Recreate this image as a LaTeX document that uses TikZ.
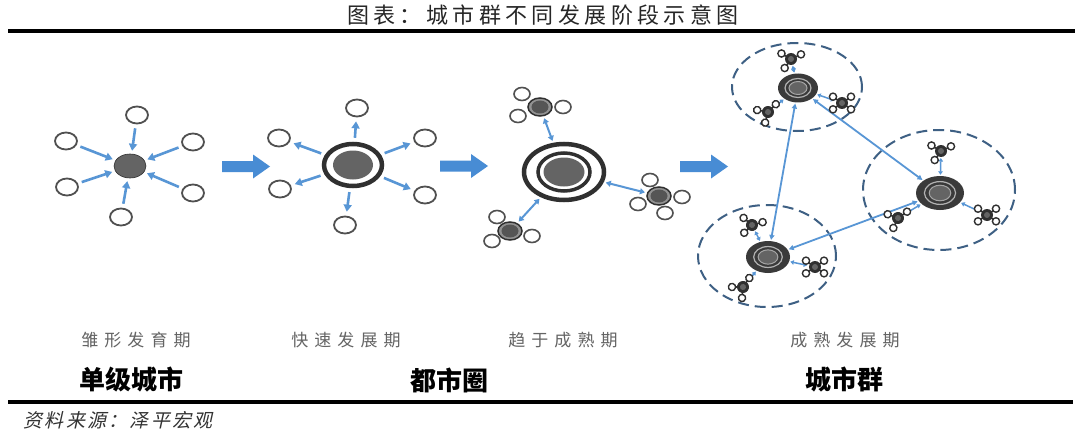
\documentclass[tikz,border=0pt]{standalone}
\usepackage{fontspec}
\usetikzlibrary{shapes.geometric,arrows.meta}
\newfontfamily\cjk{Noto Sans CJK SC}
\newfontfamily\cjkit[FakeSlant=0.22]{Noto Sans CJK SC}
\definecolor{bl}{RGB}{88,150,213}
\definecolor{bigc}{RGB}{72,140,212}
\definecolor{hubc}{RGB}{100,100,100}
\definecolor{ringc}{RGB}{48,48,48}
\definecolor{satc}{RGB}{80,80,80}
\definecolor{cityc}{RGB}{58,58,58}
\definecolor{dashc}{RGB}{62,96,132}
\definecolor{labc}{RGB}{100,100,100}
\tikzset{
  sat/.style={ellipse, draw=satc, line width=1.8pt, fill=white, minimum width=22pt, minimum height=17pt, inner sep=0pt},
  sat3/.style={ellipse, draw=satc, line width=1.6pt, fill=white, minimum width=16pt, minimum height=13pt, inner sep=0pt},
  hubone/.style={ellipse, fill=hubc, draw=ringc, line width=0.6pt, minimum width=32pt, minimum height=24pt, inner sep=0pt},
  subhub/.style={ellipse, fill=hubc!70, draw=ringc, line width=1.5pt, minimum width=24pt, minimum height=18pt, inner sep=0pt},
  city/.style={ellipse, fill=cityc, inner sep=0pt},
  dashring/.style={ellipse, draw=dashc, line width=2pt, dash pattern=on 11pt off 6pt, inner sep=0pt},
  arr/.style={draw=bl, line width=2.6pt, -{Triangle[length=7pt,width=8pt]}},
  darr/.style={draw=bl, line width=2pt, {Triangle[length=5pt,width=6pt]}-{Triangle[length=5pt,width=6pt]}},
  larr/.style={draw=bl, line width=1.8pt, {Triangle[length=5pt,width=5pt]}-{Triangle[length=5pt,width=5pt]}},
  sarr/.style={draw=bl, line width=1.5pt, {Triangle[length=3.5pt,width=4.5pt]}-{Triangle[length=3.5pt,width=4.5pt]}},
  tinythree/.pic={
    \foreach \a in {25,150,235}{
      \draw[ringc, line width=1.5pt] (0,0) -- (\a:8pt);
      \draw[ringc, line width=1.4pt, fill=white] (\a:11pt) circle[radius=3.6pt];
    }
    \fill[ringc] (0,0) circle[radius=6pt];
    \fill[hubc] (0,0) circle[radius=3pt];
  },
  tinyfour/.pic={
    \foreach \a in {35,145,215,325}{
      \draw[ringc, line width=1.5pt] (0,0) -- (\a:8pt);
      \draw[ringc, line width=1.4pt, fill=white] (\a:11pt) circle[radius=3.6pt];
    }
    \fill[ringc] (0,0) circle[radius=6pt];
    \fill[hubc] (0,0) circle[radius=3pt];
  },
  blockarr/.pic={
    \fill[bigc] (0,-5.5) -- (31,-5.5) -- (31,-12) -- (48,0) -- (31,12) -- (31,5.5) -- (0,5.5) -- cycle;
  },
  lab/.style={font=\cjk\fontsize{17}{17}\selectfont\addfontfeature{LetterSpace=36}, text=labc},
  big/.style={font=\cjk\bfseries\fontsize{26}{26}\selectfont, text=black}
}
\begin{document}
\begin{tikzpicture}[x=1pt,y=-1pt]
\useasboundingbox (0,0) rectangle (1080,436);
\fill[white] (0,0) rectangle (1080,436);

% title and rules
\node[font=\cjk\fontsize{22}{22}\selectfont\addfontfeature{LetterSpace=20}, text=black!85] (title) at (543,15) {图表：城市群不同发展阶段示意图};
\draw[line width=4pt] (8,31) -- (1075,31);
\draw[line width=3.5pt] (8,402) -- (1073,402);
\node[font=\cjkit\fontsize{19}{19}\selectfont\addfontfeature{LetterSpace=12}, text=black!80, anchor=west] (src) at (20,420) {资料来源：泽平宏观};

% stage 1
\node[hubone] (c1) at (130,166) {};
\node[sat] (s1a) at (137,115) {};
\node[sat] (s1b) at (66,141) {};
\node[sat] (s1c) at (193,142) {};
\node[sat] (s1d) at (67,187) {};
\node[sat] (s1e) at (193,193) {};
\node[sat] (s1f) at (121,217) {};
\foreach \s in {s1a,s1b,s1c,s1d,s1e,s1f}{\draw[arr, shorten <=4pt, shorten >=3pt] (\s) -- (c1);}

\pic at (222,166.5) {blockarr};

% stage 2
\node[ellipse, draw=ringc, line width=4.5pt, minimum width=58pt, minimum height=42pt, inner sep=0pt] (c2) at (353,165) {};
\fill[hubc] (c2.center) ellipse[x radius=20pt, y radius=14.5pt];
\node[sat] (s2a) at (357,108) {};
\node[sat] (s2b) at (279,138) {};
\node[sat] (s2c) at (425,138) {};
\node[sat] (s2d) at (280,189) {};
\node[sat] (s2e) at (425,195) {};
\node[sat] (s2f) at (345,225) {};
\foreach \s in {s2a,s2b,s2c,s2d,s2e,s2f}{\draw[arr, shorten <=4pt, shorten >=4pt] (c2) -- (\s);}

\pic at (440,166) {blockarr};

% stage 3
\node[ellipse, draw=ringc, line width=4.5pt, minimum width=80pt, minimum height=56pt, inner sep=0pt] (c3) at (564,172) {};
\draw[ringc, line width=3.5pt] (c3.center) ellipse[x radius=26pt, y radius=19pt];
\fill[hubc] (c3.center) ellipse[x radius=20.5pt, y radius=14.5pt];

\node[subhub] (h3a) at (540,107) {};
\fill[hubc!85!black] (h3a.center) ellipse[x radius=8.5pt, y radius=6.5pt];
\node[sat3] (p3a) at (522,94) {};
\node[sat3] (p3b) at (518,116) {};
\node[sat3] (p3c) at (563,107) {};

\node[subhub] (h3b) at (659,196) {};
\fill[hubc!85!black] (h3b.center) ellipse[x radius=8.5pt, y radius=6.5pt];
\node[sat3] (q3a) at (650,180) {};
\node[sat3] (q3b) at (682,197) {};
\node[sat3] (q3c) at (638,204) {};
\node[sat3] (q3d) at (665,213) {};

\node[subhub] (h3c) at (510,231) {};
\fill[hubc!85!black] (h3c.center) ellipse[x radius=8.5pt, y radius=6.5pt];
\node[sat3] (r3a) at (497,217) {};
\node[sat3] (r3b) at (532,236) {};
\node[sat3] (r3c) at (492,241) {};

\draw[darr, shorten <=2pt, shorten >=2pt] (h3a) -- (c3);
\draw[darr, shorten <=2pt, shorten >=2pt] (h3b) -- (c3);
\draw[darr, shorten <=2pt, shorten >=2pt] (h3c) -- (c3);

\pic at (680,166.5) {blockarr};

% stage 4
\node[dashring, minimum width=130pt, minimum height=88pt] (ra) at (797,87) {};
\node[dashring, minimum width=152pt, minimum height=120pt] (rb) at (939,190) {};
\node[dashring, minimum width=138pt, minimum height=102pt] (rc) at (767,256) {};

\node[city, minimum width=40pt, minimum height=29pt] (A) at (798,88) {};
\node[city, minimum width=48pt, minimum height=34pt] (B) at (940,193) {};
\node[city, minimum width=44pt, minimum height=32pt] (C) at (768,257) {};
\foreach \n/\r in {A/1,B/1.2,C/1.1}{
  \draw[black!30, line width=1.2pt] (\n.center) ellipse[x radius=13*\r pt, y radius=9.5*\r pt];
  \draw[black!35, line width=1pt, fill=hubc] (\n.center) ellipse[x radius=9*\r pt, y radius=6.5*\r pt];
}

\draw[larr, shorten <=1pt, shorten >=1pt] (A) -- (C);
\draw[larr, shorten <=1pt, shorten >=1pt] (A) -- (B);
\draw[larr, shorten <=1pt, shorten >=1pt] (C) -- (B);

\coordinate (ta1) at (791,59);
\coordinate (ta2) at (768,112);
\coordinate (ta3) at (842,103);
\coordinate (tb1) at (941,151);
\coordinate (tb2) at (898,218);
\coordinate (tb3) at (987,215);
\coordinate (tc1) at (752,225);
\coordinate (tc2) at (815,267);
\coordinate (tc3) at (743,287);

\draw[sarr, shorten <=7pt, shorten >=1pt] (ta1) -- (A);
\draw[sarr, shorten <=7pt, shorten >=1pt] (ta2) -- (A);
\draw[sarr, shorten <=8pt, shorten >=1pt] (ta3) -- (A);
\draw[sarr, shorten <=7pt, shorten >=1pt] (tb1) -- (B);
\draw[sarr, shorten <=7pt, shorten >=1pt] (tb2) -- (B);
\draw[sarr, shorten <=8pt, shorten >=1pt] (tb3) -- (B);
\draw[sarr, shorten <=7pt, shorten >=1pt] (tc1) -- (C);
\draw[sarr, shorten <=8pt, shorten >=1pt] (tc2) -- (C);
\draw[sarr, shorten <=7pt, shorten >=1pt] (tc3) -- (C);

\pic at (ta1) {tinythree};
\pic[rotate=20] at (ta2) {tinythree};
\pic at (ta3) {tinyfour};
\pic at (tb1) {tinythree};
\pic[rotate=10] at (tb2) {tinythree};
\pic at (tb3) {tinyfour};
\pic[rotate=-10] at (tc1) {tinythree};
\pic at (tc2) {tinyfour};
\pic[rotate=30] at (tc3) {tinythree};

% labels
\node[lab] (l1) at (136,340) {雏形发育期};
\node[lab] (l2) at (346,340) {快速发展期};
\node[lab] (l3) at (563,340) {趋于成熟期};
\node[lab] (l4) at (845,340) {成熟发展期};
\node[big] (b1) at (131,380) {单级城市};
\node[big] (b2) at (449,380) {都市圈};
\node[big] (b3) at (844,380) {城市群};
\end{tikzpicture}
\end{document}
